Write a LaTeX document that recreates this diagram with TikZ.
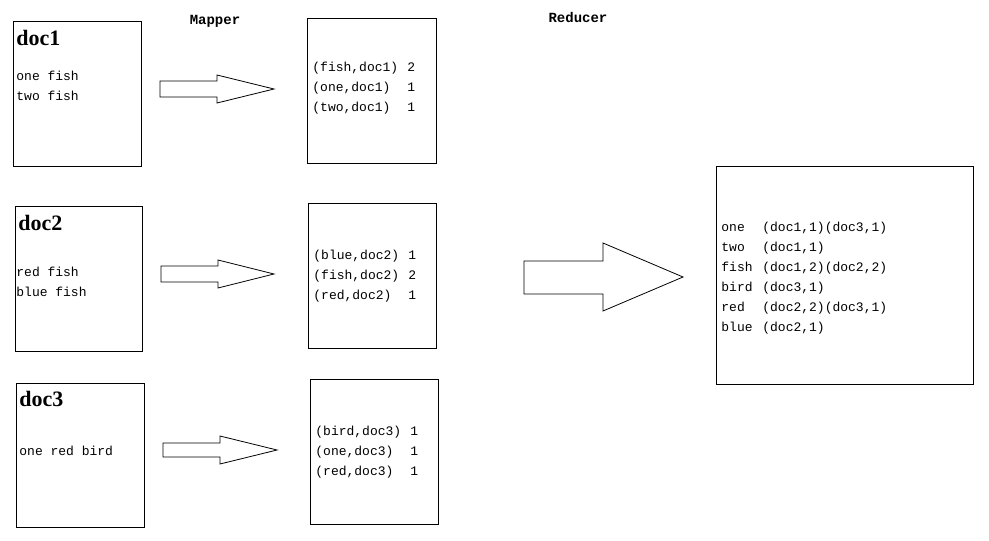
\documentclass[tikz,border=0pt]{standalone}
\usepackage{fontspec}
\setmainfont{Liberation Serif}
\setmonofont{Liberation Mono}

\newcommand{\kv}[2]{\makebox[95pt][l]{#1}#2}
\newcommand{\word}[2]{\makebox[41pt][l]{#1}#2}

\begin{document}
\begin{tikzpicture}[x=1pt,y=-1pt,line width=0.8pt,
    txt/.style={anchor=west,inner sep=0pt,align=left,font=\ttfamily\fontsize{13}{20}\selectfont},
    title/.style={anchor=west,inner sep=0pt,font=\bfseries\fontsize{22}{24}\selectfont},
    stage/.style={inner sep=0pt,font=\ttfamily\bfseries\fontsize{14}{16}\selectfont}]
    \useasboundingbox (0,0) rectangle (989,541);

    % stage labels
    \node[stage] (mapper) at (215,21) {Mapper};
    \node[stage] (reducer) at (578,17) {Reducer};

    % input documents
    \draw (13,21) rectangle (141,166);
    \node[title] (doc1) at (16,38) {doc1};
    \node[txt] (in1) at (16,86) {one fish\\two fish};

    \draw (15,206) rectangle (142,351);
    \node[title] (doc2) at (18,223) {doc2};
    \node[txt] (in2) at (16,282) {red fish\\blue fish};

    \draw (16,383) rectangle (144,527);
    \node[title] (doc3) at (19,399) {doc3};
    \node[txt] (in3) at (19,451) {one red bird};

    % map arrows
    \draw (160,81) -- (217,81) -- (217,75) -- (274,89) -- (217,103) -- (217,97) -- (160,97) -- cycle;
    \draw (161,266) -- (218,266) -- (218,260) -- (274,274) -- (218,288) -- (218,282) -- (161,282) -- cycle;
    \draw (163,443) -- (220,443) -- (220,436) -- (277,450) -- (220,464) -- (220,457) -- (163,457) -- cycle;

    % mapper output
    \draw (307,18) rectangle (436,163);
    \node[txt] (map1) at (312,88) {\kv{(fish,doc1)}{2}\\\kv{(one,doc1)}{1}\\\kv{(two,doc1)}{1}};

    \draw (308,203) rectangle (436,348);
    \node[txt] (map2) at (313,276) {\kv{(blue,doc2)}{1}\\\kv{(fish,doc2)}{2}\\\kv{(red,doc2)}{1}};

    \draw (310,379) rectangle (438,524);
    \node[txt] (map3) at (315,452) {\kv{(bird,doc3)}{1}\\\kv{(one,doc3)}{1}\\\kv{(red,doc3)}{1}};

    % reduce arrow
    \draw (524,261) -- (603,261) -- (603,243) -- (683,277) -- (603,311) -- (603,294) -- (524,294) -- cycle;

    % reducer output
    \draw (716,166) rectangle (973,384);
    \node[txt] (index) at (721,278) {\word{one}{(doc1,1)(doc3,1)}\\\word{two}{(doc1,1)}\\\word{fish}{(doc1,2)(doc2,2)}\\\word{bird}{(doc3,1)}\\\word{red}{(doc2,2)(doc3,1)}\\\word{blue}{(doc2,1)}};
\end{tikzpicture}
\end{document}
